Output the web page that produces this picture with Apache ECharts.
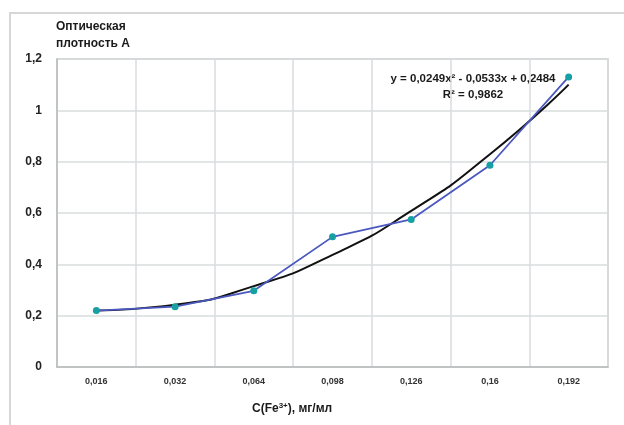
<!DOCTYPE html>
<html>
<head>
<meta charset="utf-8">
<script src="https://cdn.jsdelivr.net/npm/echarts@6/dist/echarts.min.js"></script>
<style>
html,body{margin:0;padding:0;background:#fff;}
#chart{width:624px;height:425px;}
</style>
</head>
<body>
<div id="chart"></div>
<script>
var categories = ['0,016', '0,032', '0,064', '0,098', '0,126', '0,16', '0,192'];
var measured = [0.22, 0.235, 0.297, 0.507, 0.575, 0.786, 1.13];
var trend = [0.22, 0.243, 0.315, 0.437, 0.608, 0.829, 1.10];
var yTicks = {min: 0, max: 1.2, interval: 0.2};

var FONT = '"Liberation Sans", Arial, sans-serif';
var chart = echarts.init(document.getElementById('chart'), null, {renderer: 'canvas'});
chart.setOption({
  animation: false,
  backgroundColor: '#fff',
  grid: {left: 57, right: 16, top: 59, bottom: 58, show: true, borderColor: '#c3c6c6', borderWidth: 1.5, containLabel: false},
  graphic: [
    {type: 'rect', shape: {x: 10, y: 13, width: 640, height: 440}, style: {fill: 'none', stroke: '#d6d8d8', lineWidth: 2}, z: -1},
    {type: 'text', left: 56, top: 21, style: {text: 'Оптическая', font: 'bold 12px ' + FONT, fill: '#1a1a1a'}},
    {type: 'text', left: 56, top: 38, style: {text: 'плотность А', font: 'bold 12px ' + FONT, fill: '#1a1a1a'}},
    {type: 'text', x: 473, y: 73, style: {text: 'y = 0,0249x² - 0,0533x + 0,2484', font: 'bold 11.5px ' + FONT, fill: '#1a1a1a', align: 'center'}},
    {type: 'text', x: 473, y: 89, style: {text: 'R² = 0,9862', font: 'bold 11.5px ' + FONT, fill: '#1a1a1a', align: 'center'}},
    {type: 'text', left: 252, top: 402, style: {
      text: '{a|C(Fe}{s|3+}{a|), мг/мл}',
      rich: {
        a: {fontFamily: FONT, fontWeight: 'bold', fontSize: 12, fill: '#1a1a1a'},
        s: {fontFamily: FONT, fontWeight: 'bold', fontSize: 8, fill: '#1a1a1a', verticalAlign: 'top', padding: [0, 0, 6, 0]}
      }
    }}
  ],
  xAxis: {
    type: 'category',
    data: categories,
    boundaryGap: true,
    axisLine: {show: true, lineStyle: {color: '#b8bcbc', width: 1.5}},
    axisTick: {show: false},
    axisLabel: {fontFamily: FONT, fontWeight: 'bold', fontSize: 9, color: '#333', margin: 10},
    splitLine: {show: true, lineStyle: {color: '#d9dcdc', width: 1.5}}
  },
  yAxis: {
    type: 'value',
    min: yTicks.min, max: yTicks.max, interval: yTicks.interval,
    axisLine: {show: true, lineStyle: {color: '#b8bcbc', width: 1.5}},
    axisTick: {show: false},
    axisLabel: {fontFamily: FONT, fontWeight: 'bold', fontSize: 12, color: '#222', margin: 15,
      formatter: function (v) { return String(Math.round(v * 10) / 10).replace('.', ','); }},
    splitLine: {show: true, lineStyle: {color: '#d9dcdc', width: 1.5}}
  },
  series: [
    {
      type: 'line', data: measured, symbol: 'circle', symbolSize: 7,
      lineStyle: {color: '#4a58c0', width: 1.8},
      itemStyle: {color: '#17a0a3'}, z: 3
    },
    {
      type: 'line', data: trend, smooth: 0.6, symbol: 'none',
      lineStyle: {color: '#111', width: 2}, z: 2
    }
  ]
});
</script>
</body>
</html>
